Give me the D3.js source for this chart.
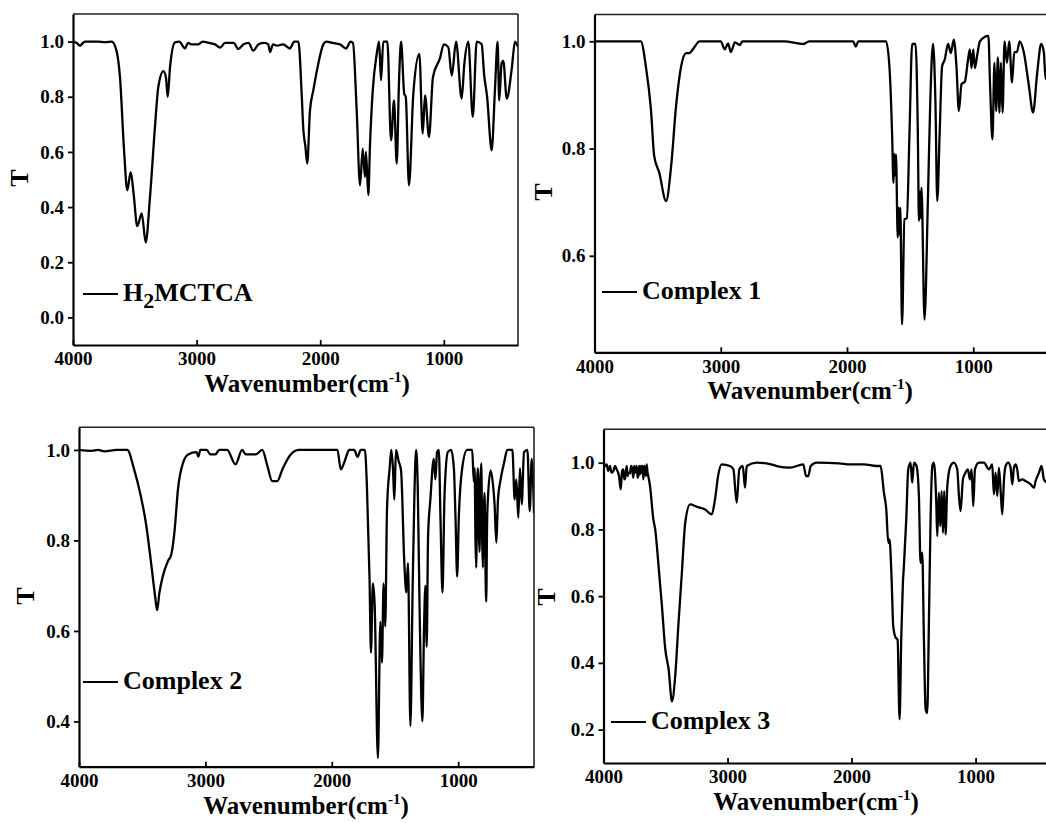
<!DOCTYPE html>
<html>
<head>
<meta charset="utf-8">
<script src="https://cdnjs.cloudflare.com/ajax/libs/d3/7.8.5/d3.min.js"></script>
<style>
  body { margin: 0; background: #fff; }
  svg text { font-family: "Liberation Serif", "Times New Roman", serif; font-weight: bold; fill: #000; }
</style>
</head>
<body>
<div id="chart"></div>
<script>
// spectra: [wavenumber, T]
const h2mctca = [[4000,1.0],[3970,0.995],[3943,0.985],[3920,0.995],[3900,1.0],[3800,1.0],[3740,0.998],[3687,1.0],[3650,0.97],[3620,0.871],[3587,0.606],[3561,0.461],[3533,0.527],[3510,0.45],[3480,0.331],[3444,0.377],[3412,0.272],[3377,0.437],[3337,0.69],[3310,0.835],[3269,0.893],[3248,0.87],[3234,0.80],[3215,0.907],[3175,0.997],[3140,1.0],[3094,0.975],[3070,0.995],[3040,0.99],[2986,0.99],[2950,1.0],[2900,0.995],[2850,0.99],[2811,0.978],[2770,0.995],[2700,0.995],[2663,0.973],[2620,0.99],[2580,0.995],[2541,0.967],[2500,0.99],[2450,0.995],[2420,0.99],[2406,0.962],[2382,0.99],[2350,0.985],[2300,0.99],[2245,0.975],[2210,1.0],[2177,1.0],[2150,0.81],[2137,0.684],[2120,0.62],[2105,0.558],[2083,0.75],[2056,0.823],[2016,0.919],[1975,0.99],[1950,1.0],[1900,0.995],[1840,0.99],[1790,0.975],[1755,1.0],[1735,0.995],[1705,0.75],[1678,0.479],[1656,0.612],[1638,0.509],[1630,0.60],[1611,0.443],[1597,0.63],[1575,0.823],[1543,0.955],[1524,1.0],[1508,0.86],[1490,1.0],[1457,1.0],[1427,0.642],[1403,0.787],[1381,0.558],[1363,0.85],[1346,1.0],[1320,0.81],[1308,0.80],[1282,0.479],[1247,0.81],[1198,0.955],[1171,0.666],[1152,0.805],[1120,0.654],[1088,0.871],[1031,0.94],[1000,0.99],[964,0.98],[936,0.877],[901,1.0],[856,0.793],[834,0.92],[802,1.0],[766,0.727],[734,1.0],[694,0.99],[674,0.88],[650,0.80],[613,0.606],[586,0.83],[565,1.0],[552,0.787],[533,0.92],[519,0.93],[491,0.793],[451,0.90],[424,1.0],[400,0.98]];

const complex1 = [[4000,1.0],[3800,1.0],[3633,1.0],[3593,0.953],[3553,0.873],[3527,0.786],[3487,0.755],[3433,0.702],[3393,0.767],[3354,0.879],[3314,0.953],[3274,0.978],[3250,0.978],[3221,0.985],[3168,1.0],[3000,1.0],[2968,0.985],[2942,0.996],[2920,0.98],[2888,0.998],[2848,0.993],[2830,1.0],[2500,1.0],[2344,0.995],[2300,1.0],[1950,1.0],[1931,0.99],[1910,1.0],[1691,1.0],[1664,0.953],[1643,0.829],[1632,0.736],[1625,0.79],[1619,0.75],[1612,0.789],[1598,0.634],[1590,0.69],[1585,0.64],[1578,0.69],[1564,0.472],[1545,0.668],[1526,0.67],[1505,0.829],[1484,0.995],[1457,0.995],[1439,0.829],[1430,0.665],[1422,0.72],[1416,0.67],[1410,0.727],[1386,0.481],[1359,0.707],[1340,0.891],[1319,0.995],[1300,0.891],[1285,0.702],[1266,0.829],[1247,0.953],[1226,0.966],[1199,0.995],[1178,0.978],[1154,1.003],[1133,0.953],[1114,0.87],[1093,0.92],[1066,0.925],[1040,0.968],[1027,0.985],[1014,0.95],[1000,0.985],[987,0.95],[968,0.975],[947,1.0],[880,1.01],[867,0.92],[848,0.817],[832,0.96],[819,0.87],[805,0.97],[792,0.867],[781,0.96],[768,0.867],[752,1.0],[733,0.96],[715,1.0],[693,0.923],[675,0.98],[654,0.98],[632,1.0],[600,0.98],[561,0.92],[526,0.867],[494,0.94],[462,0.995],[441,0.98],[427,0.93],[400,0.93]];

const complex2 = [[4000,1.0],[3900,0.998],[3850,1.0],[3800,0.997],[3700,1.0],[3618,1.0],[3564,0.957],[3511,0.898],[3471,0.839],[3430,0.751],[3398,0.677],[3382,0.646],[3364,0.684],[3337,0.721],[3297,0.754],[3270,0.769],[3243,0.824],[3217,0.913],[3176,0.972],[3136,0.99],[3070,0.995],[3056,0.985],[3040,1.0],[2990,1.0],[2960,0.99],[2921,0.99],[2890,1.0],[2855,1.0],[2828,1.0],[2762,0.968],[2709,1.0],[2680,0.99],[2643,0.99],[2603,0.99],[2550,1.0],[2510,0.965],[2471,0.931],[2431,0.931],[2391,0.957],[2325,0.99],[2259,1.0],[2100,1.0],[1955,1.0],[1929,0.957],[1902,0.972],[1880,0.99],[1863,1.0],[1823,1.0],[1796,0.985],[1770,1.0],[1738,1.0],[1722,0.92],[1701,0.713],[1690,0.552],[1675,0.705],[1661,0.66],[1635,0.319],[1616,0.62],[1603,0.53],[1590,0.705],[1577,0.61],[1563,0.87],[1542,0.96],[1529,1.0],[1516,0.96],[1505,0.89],[1492,1.0],[1471,0.975],[1452,0.955],[1426,0.75],[1410,0.685],[1397,0.75],[1378,0.39],[1360,0.70],[1347,0.89],[1333,1.0],[1320,0.92],[1307,0.68],[1299,0.55],[1283,0.40],[1270,0.61],[1259,0.70],[1249,0.565],[1238,0.81],[1220,0.89],[1193,0.98],[1180,0.935],[1167,0.995],[1153,1.0],[1140,0.85],[1124,0.685],[1108,0.9],[1082,0.995],[1056,1.0],[1034,0.96],[1021,0.85],[1008,0.72],[995,0.85],[968,0.96],[929,1.0],[889,1.0],[876,0.93],[870,0.96],[863,0.80],[857,0.74],[850,0.93],[844,0.96],[837,0.82],[831,0.775],[824,0.93],[817,0.97],[810,0.80],[804,0.74],[797,0.87],[791,0.905],[784,0.74],[778,0.665],[771,0.84],[765,0.89],[743,0.955],[725,0.925],[712,0.88],[698,0.795],[685,0.89],[664,0.935],[638,0.97],[611,1.0],[571,1.0],[553,0.89],[540,0.935],[524,0.85],[511,0.96],[497,0.88],[479,0.995],[452,1.0],[434,0.865],[418,0.98],[400,0.86]];

const complex3 = [[4000,1.0],[3985,0.99],[3975,0.995],[3962,0.975],[3948,0.99],[3935,0.97],[3920,0.975],[3908,0.99],[3894,0.98],[3875,0.96],[3861,0.92],[3850,0.975],[3840,0.98],[3832,0.95],[3825,0.955],[3813,0.99],[3805,0.96],[3800,0.97],[3786,0.968],[3778,0.99],[3770,0.985],[3760,0.955],[3752,0.99],[3745,0.97],[3732,0.99],[3725,0.955],[3720,0.96],[3712,0.99],[3706,0.965],[3698,0.99],[3692,0.97],[3685,0.99],[3679,0.95],[3672,0.99],[3665,0.985],[3658,0.96],[3652,0.995],[3645,0.97],[3639,0.96],[3625,0.93],[3598,0.83],[3583,0.80],[3556,0.69],[3529,0.571],[3502,0.441],[3475,0.381],[3448,0.285],[3422,0.36],[3395,0.521],[3368,0.671],[3341,0.82],[3302,0.875],[3248,0.868],[3181,0.86],[3127,0.845],[3101,0.89],[3074,0.965],[3047,0.995],[2980,0.99],[2953,0.98],[2926,0.88],[2905,0.98],[2877,0.99],[2859,0.925],[2845,0.99],[2765,1.0],[2650,0.995],[2603,0.99],[2496,0.985],[2389,0.995],[2367,0.96],[2349,0.96],[2329,0.99],[2281,1.0],[2100,0.998],[2012,0.995],[1900,0.995],[1800,0.99],[1766,0.99],[1739,0.91],[1720,0.86],[1704,0.76],[1694,0.77],[1677,0.65],[1664,0.51],[1645,0.476],[1629,0.47],[1613,0.231],[1599,0.48],[1586,0.64],[1578,0.69],[1559,0.83],[1543,0.98],[1524,1.0],[1511,0.94],[1497,1.0],[1476,0.99],[1457,0.9],[1444,0.70],[1430,0.73],[1417,0.48],[1403,0.261],[1390,0.25],[1376,0.53],[1363,0.83],[1349,0.99],[1336,1.0],[1317,0.88],[1309,0.78],[1296,0.91],[1285,0.81],[1274,0.915],[1263,0.79],[1253,0.915],[1242,0.785],[1228,0.93],[1202,0.99],[1175,1.0],[1148,0.98],[1134,0.9],[1121,0.855],[1102,0.95],[1081,0.97],[1062,0.98],[1046,0.95],[1032,0.98],[1019,0.87],[1005,0.98],[973,1.0],[933,1.0],[892,0.98],[866,0.995],[852,0.905],[839,0.97],[825,0.9],[812,0.985],[798,0.915],[785,0.845],[771,0.95],[758,0.99],[737,1.0],[718,0.985],[704,0.935],[691,0.985],[677,0.995],[664,0.98],[651,0.945],[624,0.95],[597,0.945],[556,0.935],[530,0.925],[516,0.945],[489,0.97],[468,0.99],[449,0.95],[420,0.94],[400,0.94]];

const xDomain = [4000, 400];
const xTicks = [4000, 3000, 2000, 1000];
const yDomains = [[-0.1, 1.1], [0.42, 1.05], [0.3, 1.05], [0.1, 1.1]];
const yTickSets = [
    [0.0, 0.2, 0.4, 0.6, 0.8, 1.0],
    [0.6, 0.8, 1.0],
    [0.4, 0.6, 0.8, 1.0],
    [0.2, 0.4, 0.6, 0.8, 1.0]
];
const legendNames = [['H', '2', 'MCTCA'], ['Complex 1'], ['Complex 2'], ['Complex 3']];
const spectra = [h2mctca, complex1, complex2, complex3];

// where each panel sits in the page (px)
const layout = [
    { l: 73,    t: 14,    r: 518,  b: 345,   titleX: 307, tX: 19,  tY: 178, legY: 294, legX: 83 },
    { l: 594.5, t: 14.5,  r: 1049, b: 352.3, titleX: 810, tX: 543, tY: 192, legY: 292, legX: 602 },
    { l: 79,    t: 427.3, r: 534,  b: 766.7, titleX: 306, tX: 25,  tY: 596, legY: 682, legX: 83 },
    { l: 603.5, t: 429.3, r: 1050, b: 763,   titleX: 816, tX: 546, tY: 597, legY: 722, legX: 611 }
];

const svg = d3.select('#chart').append('svg')
    .attr('width', 1046)
    .attr('height', 823);

layout.forEach((p, i) => {
    let w = p.r - p.l,
        h = p.b - p.t;

    let x = d3.scaleLinear().domain(xDomain).range([0, w]);
    let y = d3.scaleLinear().domain(yDomains[i]).range([h, 0]);

    let g = svg.append('g')
        .attr('transform', `translate(${p.l},${p.t})`);

    svg.append('clipPath')
        .attr('id', 'clip' + i)
        .append('rect')
        .attr('width', w)
        .attr('height', h);

    // spectrum
    let line = d3.line()
        .x(d => x(d[0]))
        .y(d => y(d[1]))
        .curve(d3.curveMonotoneX);

    g.append('path')
        .datum(spectra[i])
        .attr('clip-path', `url(#clip${i})`)
        .attr('d', line)
        .attr('fill', 'none')
        .attr('stroke', '#000')
        .attr('stroke-width', 2.3)
        .attr('stroke-linejoin', 'round');

    // frame: top / right thinner
    g.append('line').attr('x1', 0).attr('x2', w).attr('y1', 0).attr('y2', 0)
        .attr('stroke', '#222').attr('stroke-width', 1.6);
    g.append('line').attr('x1', w).attr('x2', w).attr('y1', 0).attr('y2', h)
        .attr('stroke', '#222').attr('stroke-width', 1.6);

    // x axis, ticks pointing in
    let xAxis = d3.axisBottom(x)
        .tickValues(xTicks)
        .tickFormat(d3.format('d'))
        .tickSizeInner(-5)
        .tickSizeOuter(0)
        .tickPadding(7);

    let xg = g.append('g')
        .attr('transform', `translate(0,${h})`)
        .call(xAxis);

    // y axis, ticks pointing out
    let yAxis = d3.axisLeft(y)
        .tickValues(yTickSets[i])
        .tickFormat(d3.format('.1f'))
        .tickSizeInner(5)
        .tickSizeOuter(0)
        .tickPadding(4);

    let yg = g.append('g').call(yAxis);

    for (const ax of [xg, yg]) {
        ax.select('.domain').attr('stroke', '#000').attr('stroke-width', 2.2);
        ax.selectAll('.tick line').attr('stroke', '#000').attr('stroke-width', 1.8);
        ax.selectAll('.tick text')
            .style('font-size', '19px')
            .style('font-family', '"Liberation Serif", "Times New Roman", serif')
            .style('font-weight', 'bold')
            .attr('fill', '#000');
    }

    // axis titles
    let title = svg.append('text')
        .attr('x', p.titleX)
        .attr('y', p.b + 47)
        .attr('text-anchor', 'middle')
        .style('font-size', '25px');
    title.append('tspan').text('Wavenumber(cm');
    title.append('tspan').attr('dy', -10).style('font-size', '15px').text('-1');
    title.append('tspan').attr('dy', 10).text(')');

    svg.append('text')
        .attr('transform', `translate(${p.tX},${p.tY}) rotate(-90)`)
        .attr('text-anchor', 'middle')
        .attr('dy', '0.35em')
        .style('font-size', '26px')
        .text('T');

    // legend
    svg.append('line')
        .attr('x1', p.legX).attr('x2', p.legX + 35)
        .attr('y1', p.legY).attr('y2', p.legY)
        .attr('stroke', '#000')
        .attr('stroke-width', 2.2);

    let leg = svg.append('text')
        .attr('x', p.legX + 40)
        .attr('y', p.legY + 7)
        .style('font-size', '26px');

    let parts = legendNames[i];
    if (parts.length === 3) {
        leg.append('tspan').text(parts[0]);
        leg.append('tspan').attr('dy', 7).style('font-size', '22px').text(parts[1]);
        leg.append('tspan').attr('dy', -7).text(parts[2]);
    } else {
        leg.append('tspan').text(parts[0]);
    }
});
</script>
</body>
</html>
